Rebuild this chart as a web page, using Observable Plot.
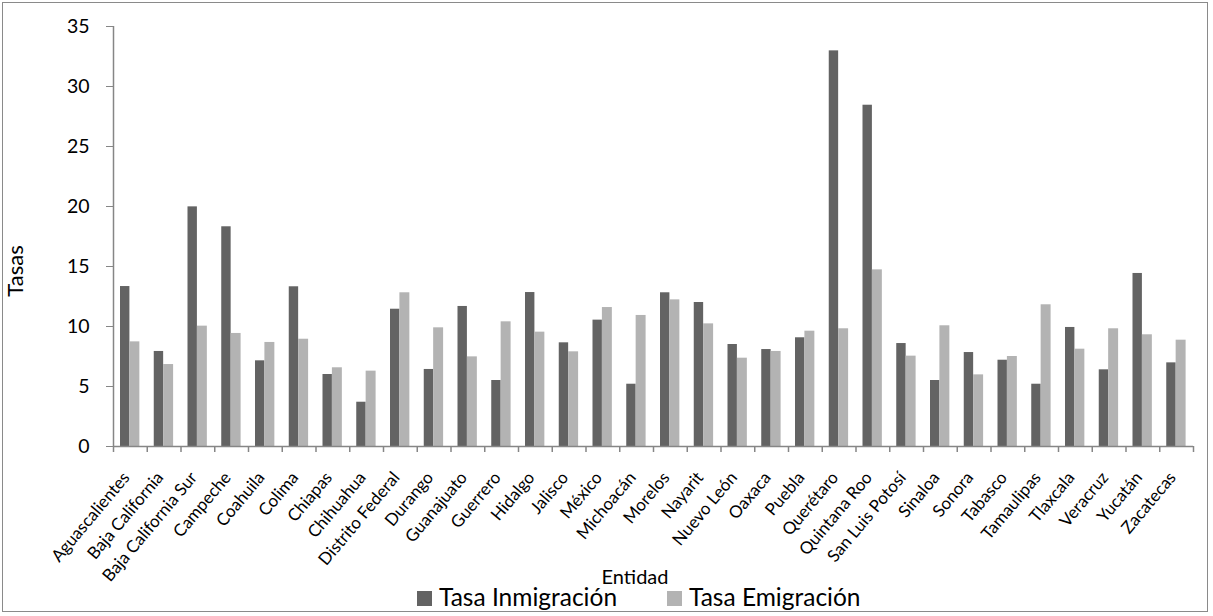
<!DOCTYPE html>
<html>
<head>
<meta charset="utf-8">
<script src="https://cdn.jsdelivr.net/npm/d3@7"></script>
<script src="https://cdn.jsdelivr.net/npm/@observablehq/plot@0.6"></script>
<style>
  html, body { margin: 0; padding: 0; background: #fff; }
  body { width: 1213px; height: 616px; position: relative; overflow: hidden; font-family: Lato, "Open Sans", sans-serif; }
  #frame { position: absolute; left: 2px; top: 2px; width: 1204px; height: 608px; border: 1.5px solid #8a8a8a; box-sizing: content-box; }
  #chart { position: absolute; left: 0; top: 0; }
  #ylabel { position: absolute; left: 15px; top: 271px; transform: translate(-50%, -50%) rotate(-90deg); font-size: 22px; line-height: 24px; color: #000; white-space: nowrap; }
  #xlabel { position: absolute; left: 535px; width: 200px; top: 564px; text-align: center; font-size: 20px; line-height: 24px; color: #000; }
  #legend { position: absolute; top: 582px; left: 0; width: 1213px; font-size: 24.5px; line-height: 29px; color: #000; }
  .item { position: absolute; top: 0; display: flex; align-items: center; white-space: nowrap; }
  .sw { width: 15px; height: 15px; margin-right: 7px; margin-top: 3px; }
</style>
</head>
<body>
<div id="frame"></div>
<div id="chart"></div>
<div id="ylabel">Tasas</div>
<div id="xlabel">Entidad</div>
<div id="legend"></div>
<script>
// Tasas de inmigración y emigración por entidad federativa
const entidades = [
  "Aguascalientes", "Baja California", "Baja California Sur", "Campeche", "Coahuila",
  "Colima", "Chiapas", "Chihuahua", "Distrito Federal", "Durango", "Guanajuato",
  "Guerrero", "Hidalgo", "Jalisco", "México", "Michoacán", "Morelos", "Nayarit",
  "Nuevo León", "Oaxaca", "Puebla", "Querétaro", "Quintana Roo", "San Luis Potosí",
  "Sinaloa", "Sonora", "Tabasco", "Tamaulipas", "Tlaxcala", "Veracruz", "Yucatán", "Zacatecas"
];
const tasaInmigracion = [
  13.33, 7.92, 19.97, 18.31, 7.14, 13.31, 6.0, 3.69, 11.44, 6.42, 11.67,
  5.5, 12.83, 8.64, 10.53, 5.19, 12.81, 12.0, 8.5, 8.08, 9.06, 32.97,
  28.44, 8.58, 5.5, 7.83, 7.19, 5.19, 9.92, 6.39, 14.42, 6.97
];
const tasaEmigracion = [
  8.72, 6.83, 10.03, 9.42, 8.67, 8.94, 6.56, 6.28, 12.81, 9.89, 7.47,
  10.39, 9.53, 7.89, 11.58, 10.92, 12.22, 10.22, 7.36, 7.92, 9.61, 9.81,
  14.72, 7.53, 10.06, 5.97, 7.5, 11.81, 8.11, 9.81, 9.31, 8.86
];
const yTicks = [0, 5, 10, 15, 20, 25, 30, 35];
const series = ["Tasa Inmigración", "Tasa Emigración"];
const colores = ["#636363", "#b3b3b3"];

const W = 1213, H = 616, mL = 113, mR = 20, mT = 26, mB = 170;
const bw = (W - mL - mR) / entidades.length;
const axisGray = "#868686";

const chart = Plot.plot({
  width: W,
  height: H,
  marginLeft: mL,
  marginRight: mR,
  marginTop: mT,
  marginBottom: mB,
  style: { fontFamily: "Lato, 'Open Sans', sans-serif", color: "#000", background: "transparent", overflow: "visible" },
  x: { type: "band", domain: entidades, padding: 0, round: false },
  y: { domain: [0, 35] },
  marks: [
    Plot.barY(entidades, { x: d => d, y: (d, i) => tasaInmigracion[i], fill: colores[0], insetLeft: 7, insetRight: bw - 16.4 }),
    Plot.barY(entidades, { x: d => d, y: (d, i) => tasaEmigracion[i], fill: colores[1], insetLeft: 16.4, insetRight: 7.4 }),
    // eje vertical y eje horizontal
    Plot.ruleX([entidades[0]], { x: d => d, dx: -bw / 2, y1: 0, y2: 35, stroke: axisGray, strokeWidth: 1.5 }),
    Plot.ruleY([0], { stroke: axisGray, strokeWidth: 1.5 }),
    // marcas de graduación entre categorías
    Plot.ruleX(entidades, { x: d => d, dx: -bw / 2, y1: 0, y2: -0.5, stroke: axisGray, strokeWidth: 1.5 }),
    Plot.ruleX([entidades[entidades.length - 1]], { x: d => d, dx: bw / 2, y1: 0, y2: -0.5, stroke: axisGray, strokeWidth: 1.5 }),
    Plot.axisY({ ticks: yTicks, tickSize: 7, tickPadding: 17, fontSize: 19.5, stroke: axisGray, label: null }),
    Plot.axisX({ tickSize: 0, tickRotate: -50, tickPadding: 28, dx: -4, fontSize: 17, label: null })
  ]
});
document.getElementById("chart").appendChild(chart);

// Leyenda
const legend = document.getElementById("legend");
const lefts = [417, 667];
series.forEach((s, i) => {
  const item = document.createElement("div");
  item.className = "item";
  item.style.left = lefts[i] + "px";
  item.innerHTML = `<span class="sw" style="background:${colores[i]}"></span><span>${s}</span>`;
  legend.appendChild(item);
});
</script>
</body>
</html>
